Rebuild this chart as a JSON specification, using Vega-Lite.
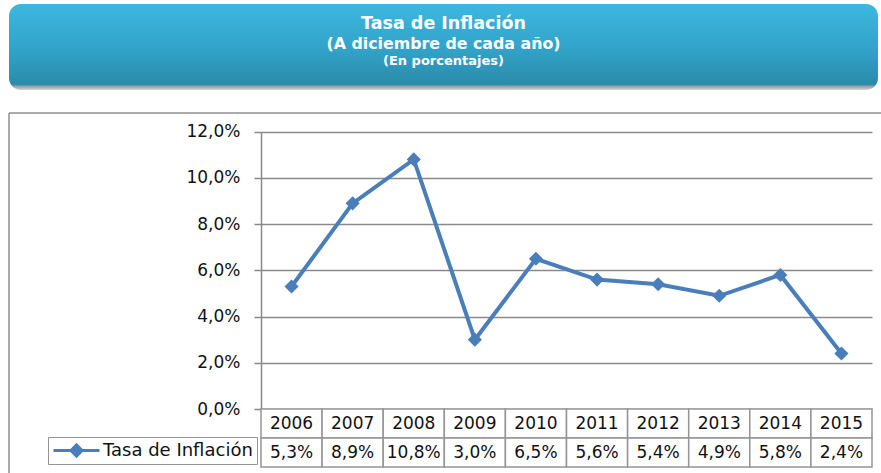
{
  "$schema": "https://vega.github.io/schema/vega-lite/v6.json",
  "background": "white",
  "padding": {"left": 8, "top": 4, "right": 0, "bottom": 0},
  "spacing": 22,
  "config": {
    "view": {"stroke": null},
    "font": "DejaVu Sans",
    "locale": {"number": {"decimal": ",", "thousands": ".", "grouping": [3], "currency": ["", " €"]}}
  },
  "vconcat": [
    {
      "width": 869,
      "height": 86,
      "data": {"values": [
        {"line": "Tasa de Inflación"},
        {"line": "(A diciembre de cada año)"},
        {"line": "(En porcentajes)"}
      ]},
      "layer": [
        {
          "data": {"values": [{}]},
          "mark": {
            "type": "rect",
            "cornerRadius": 12,
            "fill": {
              "gradient": "linear", "x1": 0, "y1": 0, "x2": 0, "y2": 1,
              "stops": [
                {"offset": 0, "color": "#3cb7e0"},
                {"offset": 0.5, "color": "#33a4ca"},
                {"offset": 0.935, "color": "#2a8bab"},
                {"offset": 0.955, "color": "#8f9ca2"},
                {"offset": 1, "color": "#d4d4d4"}
              ]
            }
          },
          "encoding": {}
        },
        {
          "transform": [{"filter": "datum.line === 'Tasa de Inflación'"}],
          "mark": {"type": "text", "color": "white", "fontWeight": "bold", "align": "center", "baseline": "middle", "font": "DejaVu Sans", "fontSize": 17.5},
          "encoding": {
            "text": {"field": "line"},
            "y": {"field": "line", "type": "nominal", "scale": {"type": "point", "domain": ["Tasa de Inflación", "(A diciembre de cada año)", "(En porcentajes)"], "range": [19.5, 56.5], "padding": 0}, "axis": null}
          }
        },
        {
          "transform": [{"filter": "datum.line === '(A diciembre de cada año)'"}],
          "mark": {"type": "text", "color": "white", "fontWeight": "bold", "align": "center", "baseline": "middle", "font": "DejaVu Sans", "fontSize": 15.8, "dy": 2},
          "encoding": {
            "text": {"field": "line"},
            "y": {"field": "line", "type": "nominal"}
          }
        },
        {
          "transform": [{"filter": "datum.line === '(En porcentajes)'"}],
          "mark": {"type": "text", "color": "white", "fontWeight": "bold", "align": "center", "baseline": "middle", "font": "DejaVu Sans", "fontSize": 13},
          "encoding": {
            "text": {"field": "line"},
            "y": {"field": "line", "type": "nominal"}
          }
        }
      ]
    },
    {
      "width": 872,
      "height": 360,
      "data": {"values": [
        {"year": "2006", "rate": 0.053},
        {"year": "2007", "rate": 0.089},
        {"year": "2008", "rate": 0.108},
        {"year": "2009", "rate": 0.030},
        {"year": "2010", "rate": 0.065},
        {"year": "2011", "rate": 0.056},
        {"year": "2012", "rate": 0.054},
        {"year": "2013", "rate": 0.049},
        {"year": "2014", "rate": 0.058},
        {"year": "2015", "rate": 0.024}
      ]},
      "layer": [
        {
          "layer": [
            {
              "data": {"values": [{}]},
              "mark": {"type": "rule", "color": "#8f8f8f", "strokeWidth": 1.5},
              "encoding": {"y": {"value": 0}}
            },
            {
              "data": {"values": [{}]},
              "mark": {"type": "rule", "color": "#8f8f8f", "strokeWidth": 1.5},
              "encoding": {"x": {"value": 0}}
            },
            {
              "mark": {"type": "line", "strokeWidth": 4},
              "encoding": {
                "x": {"field": "year", "type": "ordinal", "scale": {"type": "band", "range": [252, 863], "paddingInner": 0, "paddingOuter": 0}, "axis": null},
                "y": {
                  "field": "rate", "type": "quantitative",
                  "scale": {"domain": [0, 0.12], "range": [296, 18.7], "nice": false},
                  "axis": {
                    "title": null, "offset": -252, "values": [0, 0.02, 0.04, 0.06, 0.08, 0.1, 0.12],
                    "format": ".1%", "labelFont": "DejaVu Sans", "labelFontSize": 17, "labelColor": "#111111",
                    "labelPadding": 14, "tickSize": 7, "tickColor": "#8a8a8a", "tickWidth": 1.5,
                    "domainColor": "#8a8a8a", "domainWidth": 1.5,
                    "grid": true, "gridColor": "#8a8a8a", "gridWidth": 1.3
                  }
                },
                "color": {
                  "datum": "Tasa de Inflación",
                  "scale": {"range": ["#4a7ebb"]},
                  "legend": {
                    "title": null, "orient": "none", "legendX": 39, "legendY": 433,
                    "symbolType": "M-1,0L1,0M-0.24,0L0,-0.24L0.24,0L0,0.24Z",
                    "symbolSize": 2116, "clipHeight": 19, "columnPadding": 4,
                    "labelFont": "DejaVu Sans", "labelFontSize": 18, "labelColor": "#111111", "labelOffset": 2, "labelLimit": 400,
                    "padding": 4, "strokeColor": "#959595", "fillColor": "white",
                    "encode": {"symbols": {"update": {"fill": {"value": "#4a7ebb"}, "stroke": {"value": "#4a7ebb"}, "strokeWidth": {"value": 3}, "opacity": {"value": 1}}}}
                  }
                }
              }
            },
            {
              "mark": {"type": "point", "shape": "diamond", "filled": true, "size": 200, "opacity": 1},
              "encoding": {
                "x": {"field": "year", "type": "ordinal"},
                "y": {"field": "rate", "type": "quantitative"},
                "color": {"datum": "Tasa de Inflación"}
              }
            }
          ]
        },
        {
          "layer": [
            {
              "mark": {"type": "rect", "fill": "white", "stroke": "#959595", "strokeWidth": 1.5},
              "encoding": {
                "x": {"field": "year", "type": "ordinal"},
                "y": {"datum": "Año", "type": "nominal", "scale": {"type": "band", "domain": ["Año", "Tasa"], "range": [296, 354], "paddingInner": 0, "paddingOuter": 0}, "axis": null}
              }
            },
            {
              "mark": {"type": "rect", "fill": "white", "stroke": "#959595", "strokeWidth": 1.5},
              "encoding": {
                "x": {"field": "year", "type": "ordinal"},
                "y": {"datum": "Tasa", "type": "nominal"}
              }
            },
            {
              "mark": {"type": "text", "fontSize": 17, "font": "DejaVu Sans", "color": "#111111", "baseline": "middle", "align": "center"},
              "encoding": {
                "x": {"field": "year", "type": "ordinal"},
                "y": {"datum": "Año", "type": "nominal"},
                "text": {"field": "year"}
              }
            },
            {
              "mark": {"type": "text", "fontSize": 17, "font": "DejaVu Sans", "color": "#111111", "baseline": "middle", "align": "center"},
              "encoding": {
                "x": {"field": "year", "type": "ordinal"},
                "y": {"datum": "Tasa", "type": "nominal"},
                "text": {"field": "rate", "type": "quantitative", "format": ".1%"}
              }
            }
          ]
        }
      ],
      "resolve": {"scale": {"y": "independent"}}
    }
  ]
}
